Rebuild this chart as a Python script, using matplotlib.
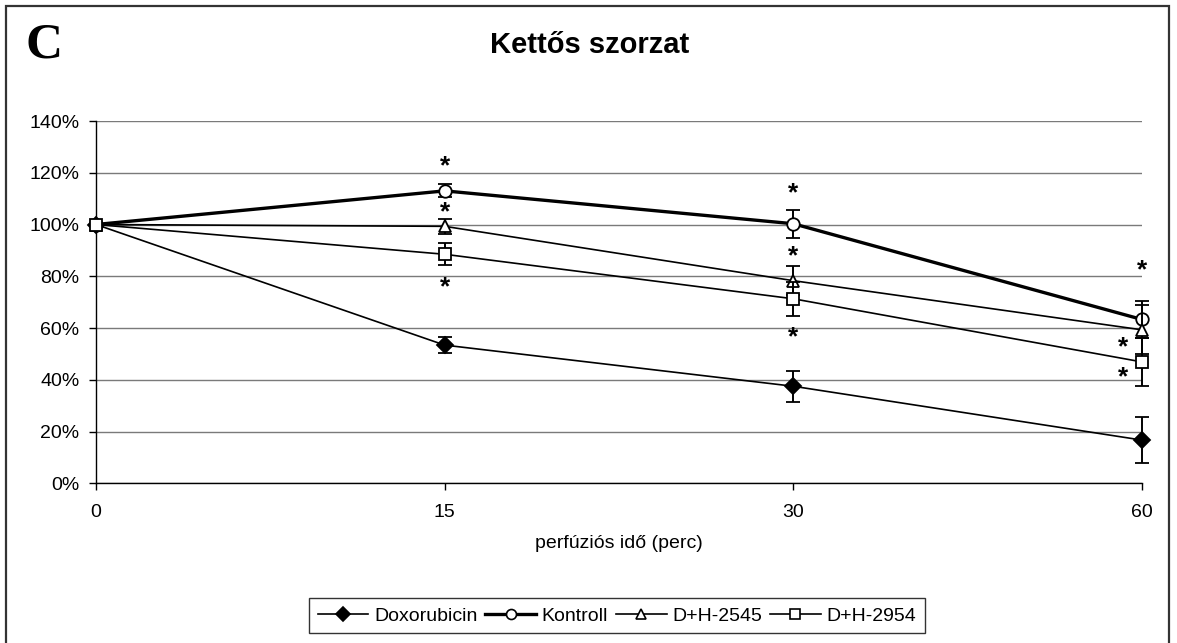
import matplotlib
matplotlib.use("Agg")
import matplotlib.pyplot as plt
from matplotlib.patches import Rectangle
from matplotlib.lines import Line2D
from matplotlib.ticker import FuncFormatter, FixedLocator

plt.rcParams['font.family'] = ['Liberation Sans', 'DejaVu Sans']

# Data
time_labels = ["0", "15", "30", "60"]
doxorubicin = [100, 53.4, 37.5, 16.7]
doxorubicin_err = [0, 3.0, 6.0, 9.0]
kontroll = [100, 113.0, 100.3, 63.3]
kontroll_err = [0, 2.5, 5.5, 7.2]
dh2545 = [100, 99.3, 78.3, 59.3]
dh2545_err = [0, 3.0, 5.7, 9.5]
dh2954 = [100, 88.5, 71.3, 46.9]
dh2954_err = [0, 4.3, 6.5, 9.3]

# significance asterisks: (x index, y value)
star_x = [1, 1, 1, 2, 2, 2, 3, 2.945, 2.945]
star_y = [123.9, 106.0, 77.3, 113.6, 89.1, 57.6, 83.6, 54.0, 42.4]

W, H = 1177, 643
fig = plt.figure(figsize=(W / 100, H / 100), dpi=100)
ax = fig.add_axes([96 / W, 1 - 483.3 / H, (1142 - 96) / W, (483.3 - 121) / H])

x = list(range(len(time_labels)))

series = [
    ("Doxorubicin", doxorubicin, doxorubicin_err, 'D', 'black', 1.2, 8.5),
    ("Kontroll", kontroll, kontroll_err, 'o', 'white', 2.4, 9),
    ("D+H-2545", dh2545, dh2545_err, '^', 'white', 1.2, 9),
    ("D+H-2954", dh2954, dh2954_err, 's', 'white', 1.2, 9),
]
handles = []
for i, (name, vals, err, mk, fc, lw, ms) in enumerate(series):
    ax.errorbar(x, vals, yerr=err, color='black', lw=lw, marker=mk,
                markerfacecolor=fc, markeredgecolor='black', markeredgewidth=1.3,
                markersize=ms, ecolor='black', elinewidth=1.4, capsize=5,
                capthick=1.4, zorder=3 + i, clip_on=False)
    handles.append(Line2D([], [], color='black', lw=lw, marker=mk,
                          markerfacecolor=fc, markeredgecolor='black',
                          markeredgewidth=1.2, markersize=ms * 0.8))

for sx, sy in zip(star_x, star_y):
    ax.annotate('*', (sx, sy), xytext=(0, -7.6), textcoords='offset points',
                ha='center', va='baseline', fontsize=19, fontweight='bold',
                zorder=10, annotation_clip=False)

ax.set_xlim(0, 3)
ax.set_ylim(0, 140)
ax.set_xticks(x)
ax.set_xticklabels(time_labels)
ax.yaxis.set_major_locator(FixedLocator(range(0, 141, 20)))
ax.yaxis.set_major_formatter(FuncFormatter(lambda v, p: f"{int(round(v))}%"))
ax.grid(axis='y', color='#7a7a7a', lw=1.0)
ax.set_axisbelow(True)
for s in ['top', 'right']:
    ax.spines[s].set_visible(False)
for s in ['left', 'bottom']:
    ax.spines[s].set_color('black')
    ax.spines[s].set_linewidth(1.0)
ax.tick_params(axis='both', direction='out', length=5, width=1, labelsize=14,
               colors='black')
ax.tick_params(axis='y', pad=7)
ax.tick_params(axis='x', pad=10)

ax.set_xlabel("perfúziós idő (perc)", fontsize=14, labelpad=10)

fig.text(590 / W, 1 - 45 / H, "Kettős szorzat", ha='center', va='center',
         fontsize=21, fontweight='bold')
fig.text(44 / W, 1 - 46 / H, "C", ha='center', va='center', fontsize=37,
         fontweight='bold', family=['Liberation Serif', 'DejaVu Serif'])

leg = fig.legend(handles=handles, labels=[s[0] for s in series],
                 loc='center', bbox_to_anchor=(617 / W, 1 - 615.7 / H), ncol=4,
                 frameon=True, fancybox=False, edgecolor='black', fontsize=14,
                 handlelength=2.6, columnspacing=0.4, handletextpad=0.3,
                 borderpad=0.45, borderaxespad=0)
leg.get_frame().set_linewidth(1.0)

fig.patches.append(Rectangle((5.5 / W, -0.05), (1169 - 5.5) / W, 1 - 5.5 / H + 0.05,
                             transform=fig.transFigure, fill=False,
                             edgecolor='#333333', lw=1.6, zorder=0))

fig.savefig("out.png", dpi=100)
